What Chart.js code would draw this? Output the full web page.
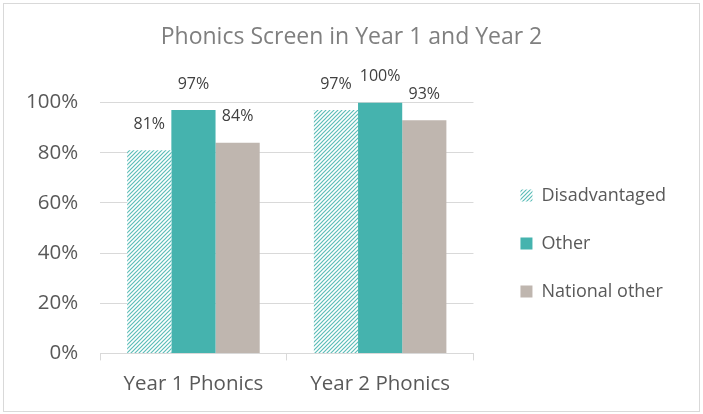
<!DOCTYPE html>
<html>
<head>
<meta charset="utf-8">
<script src="https://cdn.jsdelivr.net/npm/chart.js@4"></script>
<style>
  html, body { margin: 0; padding: 0; background: #fff; }
  #wrap { position: absolute; left: 3px; top: 3px; width: 695px; height: 407px; border: 1.5px solid #d9d9d9; }
  canvas { display: block; }
</style>
</head>
<body>
<div id="wrap"><canvas id="chart"></canvas></div>
<script>
const categories = ["Year 1 Phonics", "Year 2 Phonics"];
const disadvantaged = [81, 97];
const other = [97, 100];
const nationalOther = [84, 93];
const yTicks = [0, 20, 40, 60, 80, 100];

const FONT = "'Open Sans', Lato, sans-serif";
const TEXT = "#595959";

function hatch() {
	const c = document.createElement("canvas");
	c.width = 4;
	c.height = 4;
	const g = c.getContext("2d");
	g.fillStyle = "#ffffff";
	g.fillRect(0, 0, 4, 4);
	g.strokeStyle = "#5cbdb8";
	g.lineWidth = 1.2;
	g.beginPath();
	g.moveTo(0, 4); g.lineTo(4, 0);
	g.moveTo(-1, 1); g.lineTo(1, -1);
	g.moveTo(3, 5); g.lineTo(5, 3);
	g.stroke();
	return g.createPattern(c, "repeat");
}

// labels above each bar
const barLabels = {
	id: "barLabels",
	afterDatasetsDraw(chart) {
		const ctx = chart.ctx;
		ctx.save();
		ctx.font = "16px " + FONT;
		ctx.fillStyle = "#404040";
		ctx.textAlign = "center";
		ctx.textBaseline = "middle";
		chart.data.datasets.forEach((ds, i) => {
			chart.getDatasetMeta(i).data.forEach((bar, j) => {
				ctx.fillText(ds.data[j] + "%", bar.x, bar.y - 26);
			});
		});
		ctx.restore();
	},
};

// title centred on the whole box, legend pushed down a bit
const tweakLayout = {
	id: "tweakLayout",
	afterLayout(chart) {
		chart.titleBlock.left = 0;
		chart.titleBlock.right = chart.width;
		chart.legend.top += 31;
		chart.legend.bottom += 31;
	},
};

const ctx = document.getElementById("chart").getContext("2d");
const pattern = hatch();

new Chart(ctx, {
	type: "bar",
	data: {
		labels: categories,
		datasets: [
			{ label: "Disadvantaged", data: disadvantaged, backgroundColor: pattern },
			{ label: "Other", data: other, backgroundColor: "#45b3ae" },
			{ label: "National other", data: nationalOther, backgroundColor: "#bfb6af" },
		],
	},
	options: {
		responsive: true,
		maintainAspectRatio: false,
		animation: false,
		categoryPercentage: 0.71,
		barPercentage: 1,
		layout: { padding: { left: 0, right: 23, top: 14, bottom: 4 } },
		plugins: {
			title: {
				display: true,
				text: "Phonics Screen in Year 1 and Year 2",
				color: "#7f7f7f",
				font: { family: FONT, size: 23, weight: "normal" },
				padding: { top: 6, bottom: 51 },
			},
			legend: {
				position: "right",
				maxWidth: 300,
				labels: {
					color: TEXT,
					font: { family: FONT, size: 18 },
					boxWidth: 12,
					boxHeight: 12,
					padding: 30,
				},
			},
			tooltip: { enabled: false },
		},
		scales: {
			x: {
				grid: { display: true, drawOnChartArea: false, color: "#d9d9d9", tickLength: 7 },
				border: { color: "#d9d9d9" },
				ticks: { color: TEXT, font: { family: FONT, size: 20.5 }, padding: 11 },
			},
			y: {
				min: 0,
				max: 100,
				afterBuildTicks: (s) => { s.ticks = yTicks.map((v) => ({ value: v })); },
				grid: { color: "#d9d9d9", drawTicks: false },
				border: { display: false },
				ticks: { color: TEXT, font: { family: FONT, size: 20.5 }, padding: 22, callback: (v) => v + "%" },
			},
			gap: {
				position: "right",
				display: true,
				grid: { display: false },
				border: { display: false },
				ticks: { display: false },
				afterFit: (s) => { s.width = 17; },
			},
		},
	},
	plugins: [barLabels, tweakLayout],
});
</script>
</body>
</html>
